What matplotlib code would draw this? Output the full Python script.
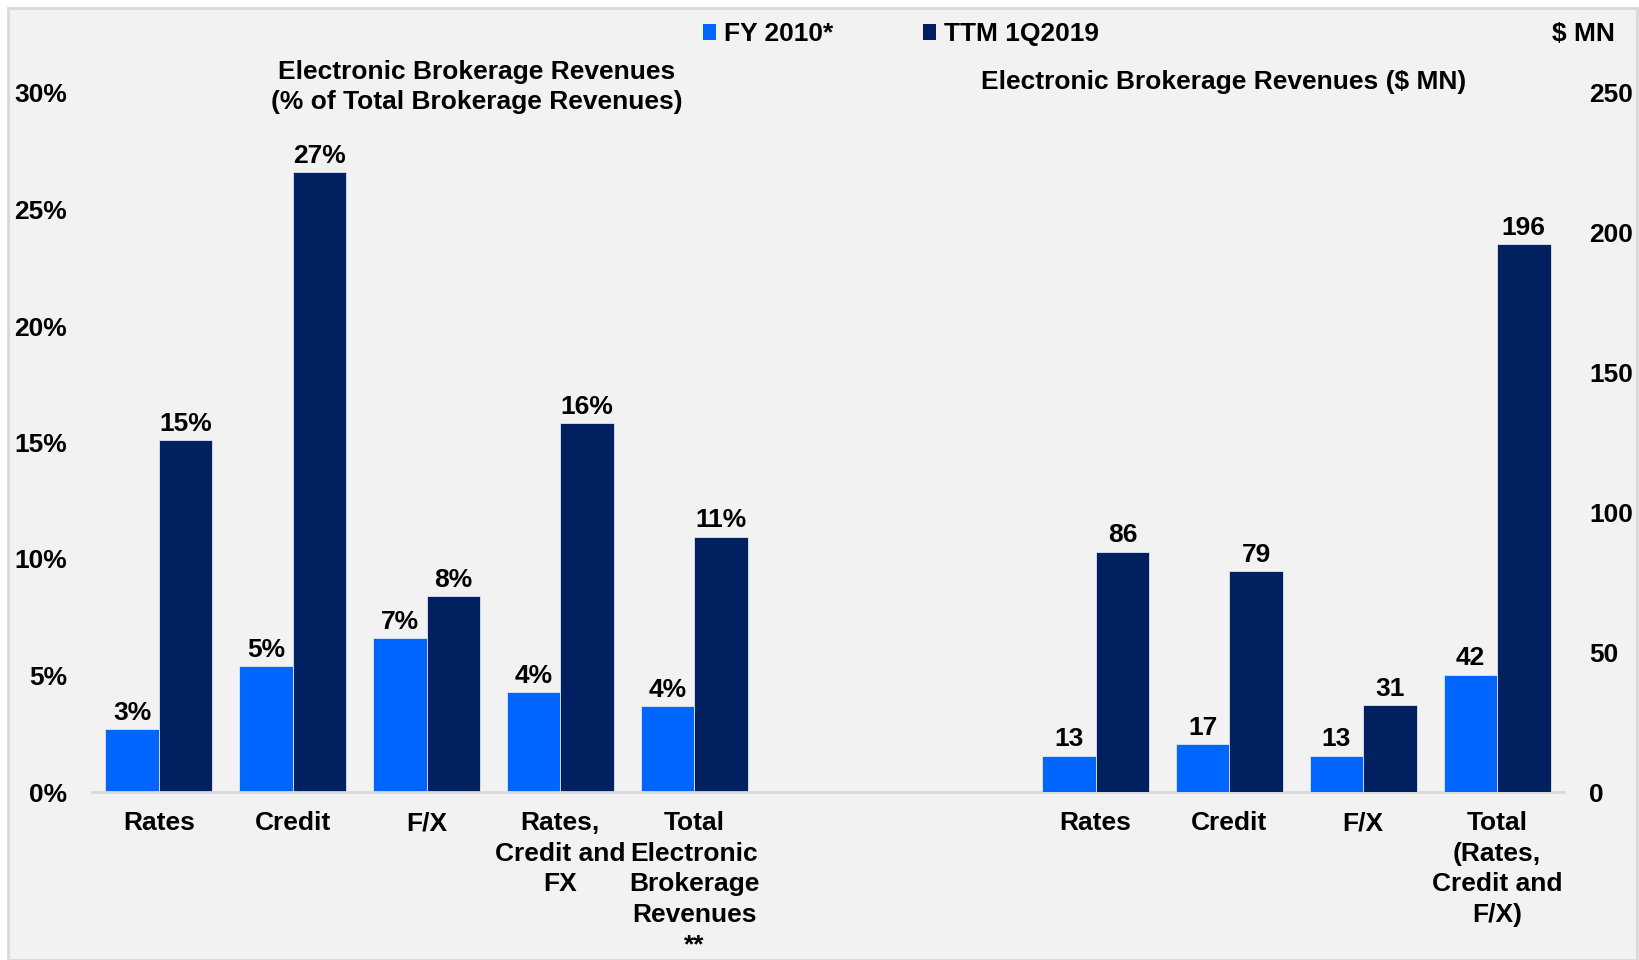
import numpy as np
import matplotlib
matplotlib.use("Agg")
import matplotlib.pyplot as plt
from matplotlib import font_manager
from matplotlib.patches import Rectangle, Patch

# ---------------- data ----------------
left_categories = ["Rates", "Credit", "F/X", "Rates,\nCredit and\nFX",
                   "Total\nElectronic\nBrokerage\nRevenues\n**"]
left_fy2010 = [2.7, 5.4, 6.6, 4.3, 3.7]          # % of total brokerage revenues
left_ttm = [15.1, 26.6, 8.4, 15.85, 10.96]

right_categories = ["Rates", "Credit", "F/X", "Total\n(Rates,\nCredit and\nF/X)"]
right_fy2010 = [13, 17, 13, 42]                  # $ MN
right_ttm = [86, 79, 31, 196]

series_names = ["FY 2010*", "TTM 1Q2019"]
left_ticks = [0, 5, 10, 15, 20, 25, 30]
right_ticks = [0, 50, 100, 150, 200, 250]

# ---------------- style ----------------
names = {f.name for f in font_manager.fontManager.ttflist}
FAM = "Liberation Sans Narrow" if "Liberation Sans Narrow" in names else "Liberation Sans"
plt.rcParams["font.family"] = [FAM, "DejaVu Sans"]
plt.rcParams["font.weight"] = "bold"
FS = 19

C_FY = "#0066FF"
C_TTM = "#002060"
BG = "#F2F2F2"

fig = plt.figure(figsize=(16.4, 9.6), dpi=100, facecolor="white")
fig.patches.append(Rectangle((8 / 1640, 0), 1 - 11 / 1640, 1 - 8 / 960,
                             transform=fig.transFigure, facecolor=BG,
                             edgecolor="#D9D9D9", linewidth=2, zorder=-10))

ax = fig.add_axes([92 / 1640, 1 - 792 / 960, (1564 - 92) / 1640, (792 - 93) / 960])
ax.set_facecolor("none")
ax2 = ax.twinx()
ax2.set_facecolor("none")

w = 0.4
xl = np.arange(len(left_categories))
xr = np.arange(len(right_categories)) + len(left_categories) + 2

b1 = ax.bar(xl - w / 2, left_fy2010, w, color=C_FY, edgecolor="#DDE6F5", linewidth=0.6)
b2 = ax.bar(xl + w / 2, left_ttm, w, color=C_TTM, edgecolor="#DDE6F5", linewidth=0.6)
b3 = ax2.bar(xr - w / 2, right_fy2010, w, color=C_FY, edgecolor="#DDE6F5", linewidth=0.6)
b4 = ax2.bar(xr + w / 2, right_ttm, w, color=C_TTM, edgecolor="#DDE6F5", linewidth=0.6)

for bars in (b1, b2):
    for r in bars:
        ax.annotate(f"{r.get_height():.0f}%", (r.get_x() + r.get_width() / 2, r.get_height()),
                    xytext=(0, 3), textcoords="offset points", ha="center", va="bottom",
                    fontsize=FS, fontweight="bold")
for bars in (b3, b4):
    for r in bars:
        ax2.annotate(f"{r.get_height():.0f}", (r.get_x() + r.get_width() / 2, r.get_height()),
                     xytext=(0, 3), textcoords="offset points", ha="center", va="bottom",
                     fontsize=FS, fontweight="bold")

ax.set_xlim(-0.5, len(left_categories) + 2 + len(right_categories) - 0.5)
ax.set_ylim(0, 30)
ax2.set_ylim(0, 250)

ax.set_xticks(list(xl) + list(xr))
ax.set_xticklabels(left_categories + right_categories, fontsize=FS, fontweight="bold",
                   linespacing=1.34, va="top")
ax.set_yticks(left_ticks)
ax.set_yticklabels([f"{t}%" for t in left_ticks], fontsize=FS, fontweight="bold")
ax2.set_yticks(right_ticks)
ax2.set_yticklabels([str(t) for t in right_ticks], fontsize=FS, fontweight="bold")

ax.tick_params(axis="x", length=0, pad=14)
ax.tick_params(axis="y", length=0, pad=18)
ax2.tick_params(axis="y", length=0, pad=18)

for a in (ax, ax2):
    for s in ("top", "left", "right"):
        a.spines[s].set_visible(False)
    a.spines["bottom"].set_color("#D9D9D9")
    a.spines["bottom"].set_linewidth(2)
ax2.spines["bottom"].set_visible(False)

# titles
fig.text(477 / 1640, 1 - 87 / 960, "Electronic Brokerage Revenues\n(% of Total Brokerage Revenues)",
         ha="center", va="center", fontsize=FS, fontweight="bold", linespacing=1.3)
fig.text(1224 / 1640, 1 - 82 / 960, "Electronic Brokerage Revenues ($ MN)",
         ha="center", va="center", fontsize=FS, fontweight="bold")
fig.text(1583 / 1640, 1 - 34 / 960, "$ MN", ha="center", va="center",
         fontsize=FS, fontweight="bold")

handles = [Patch(facecolor=C_FY), Patch(facecolor=C_TTM)]
fig.legend(handles, series_names, loc="center", bbox_to_anchor=(901 / 1640, 1 - 34 / 960),
           ncol=2, frameon=False, handlelength=0.5, handleheight=0.55,
           handletextpad=0.3, columnspacing=3.4, prop={"weight": "bold", "size": FS})

fig.savefig("out.png", dpi=100, facecolor=fig.get_facecolor())
